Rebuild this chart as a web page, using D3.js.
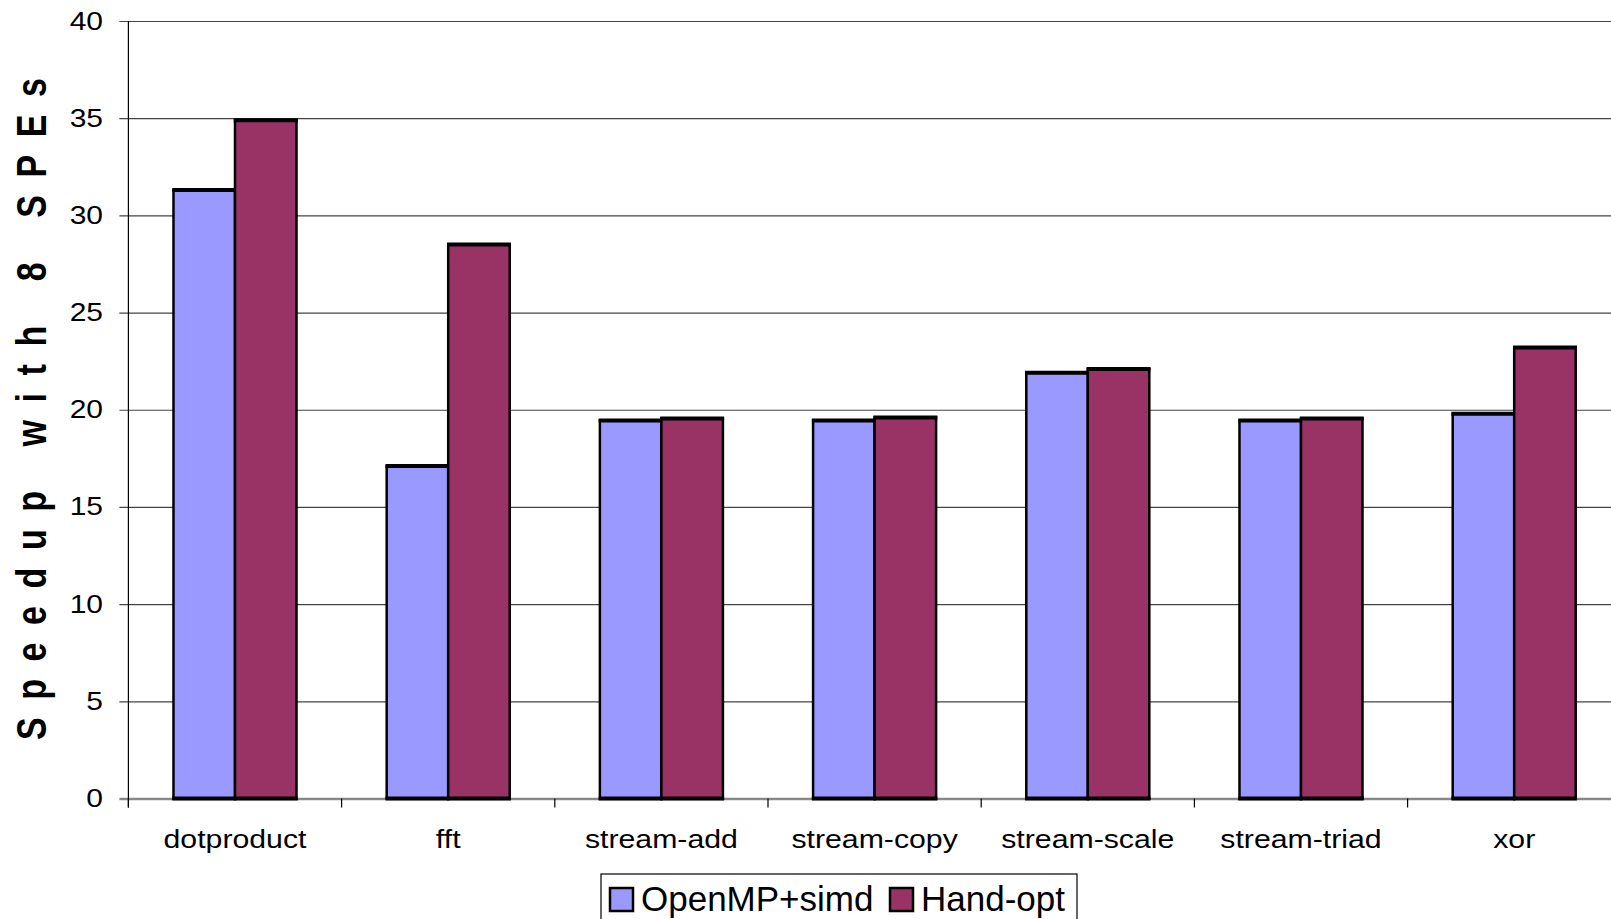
<!DOCTYPE html>
<html>
<head>
<meta charset="utf-8">
<script src="https://cdn.jsdelivr.net/npm/d3@7/dist/d3.min.js"></script>
<style>
  body { margin: 0; background: #fff; }
  svg { display: block; }
  text { font-family: "Liberation Sans", Arial, sans-serif; fill: #000; }
</style>
</head>
<body>
<svg id="chart"></svg>
<script>
const categories = ['dotproduct', 'fft', 'stream-add', 'stream-copy', 'stream-scale', 'stream-triad', 'xor']
const seriesNames = ['OpenMP+simd', 'Hand-opt']
const openmpSimd = [31.3, 17.1, 19.45, 19.45, 21.9, 19.45, 19.8]
const handOpt = [34.9, 28.5, 19.55, 19.6, 22.1, 19.55, 23.2]
const yTicks = [0, 5, 10, 15, 20, 25, 30, 35, 40]
const colors = ['#9999ff', '#993366']

const WIDTH = 1611
const HEIGHT = 919
const LEFT = 128.4
const STEP = 213.2
const TOP = 21
const BOTTOM = 798.5
const STRETCH = 1.2  // the original picture is a bit wider than tall

const svg = d3.select('#chart')
  .attr('width', WIDTH)
  .attr('height', HEIGHT)

const x = d3.scaleBand()
  .domain(categories)
  .range([LEFT, LEFT + STEP * categories.length])
  .padding(0)

const xs = d3.scaleBand()
  .domain(seriesNames)
  .range([0, x.bandwidth()])
  .paddingInner(0)
  .paddingOuter(0.733)

const y = d3.scaleLinear()
  .domain([0, 40])
  .range([BOTTOM, TOP])

// gridlines + y ticks
const yAxis = svg.append('g')
  .attr('transform', `translate(${LEFT},0)`)
  .call(d3.axisLeft(y).tickValues(yTicks).tickSize(-(WIDTH - LEFT)).tickPadding(25.4 / STRETCH).tickSizeOuter(0))
yAxis.select('.domain').remove()
yAxis.selectAll('.tick line')
  .attr('x1', -9)
  .attr('stroke', d => d === 0 ? '#888' : '#444')
  .attr('stroke-width', d => d === 0 ? 2.5 : 1.2)
yAxis.selectAll('.tick text')
  .attr('transform', `scale(${STRETCH},1)`)
  .style('font-size', '25px')
  .style('font-family', '"Liberation Sans", Arial, sans-serif')

// y axis line
svg.append('line')
  .attr('x1', LEFT).attr('x2', LEFT)
  .attr('y1', y(40)).attr('y2', BOTTOM + 9)
  .attr('stroke', '#000').attr('stroke-width', 1.2)

// category labels
const xAxis = svg.append('g')
  .attr('transform', `translate(0,${BOTTOM})`)
  .call(d3.axisBottom(x).tickSize(0).tickPadding(31).tickSizeOuter(0))
xAxis.select('.domain').remove()
xAxis.selectAll('.tick text')
  .attr('transform', `scale(${STRETCH * 0.97},1)`)
  .style('font-size', '26px')
  .style('font-family', '"Liberation Sans", Arial, sans-serif')

svg.append('g').selectAll('line')
  .data(categories)
  .enter().append('line')
  .attr('x1', d => x(d)).attr('x2', d => x(d))
  .attr('y1', BOTTOM).attr('y2', BOTTOM + 9)
  .attr('stroke', '#000').attr('stroke-width', 1.2)

// bars
const rows = categories.map((c, i) => ({ name: c, values: [openmpSimd[i], handOpt[i]] }))
const group = svg.append('g').selectAll('g')
  .data(rows)
  .enter().append('g')
  .attr('transform', d => `translate(${x(d.name)},0)`)

const bar = group.selectAll('g')
  .data(d => d.values.map((v, j) => ({ series: seriesNames[j], value: v, j })))
  .enter().append('g')

bar.append('rect')
  .attr('x', d => xs(d.series))
  .attr('y', d => y(d.value))
  .attr('width', xs.bandwidth())
  .attr('height', d => BOTTOM - y(d.value))
  .attr('fill', d => colors[d.j])
  .attr('stroke', '#000')
  .attr('stroke-width', 2.5)

bar.append('line')
  .attr('x1', d => xs(d.series) - 1.2)
  .attr('x2', d => xs(d.series) + xs.bandwidth() + 1.2)
  .attr('y1', d => y(d.value))
  .attr('y2', d => y(d.value))
  .attr('stroke', '#000')
  .attr('stroke-width', 4)

bar.append('line')
  .attr('x1', d => xs(d.series) - 1.2)
  .attr('x2', d => xs(d.series) + xs.bandwidth() + 1.2)
  .attr('y1', BOTTOM)
  .attr('y2', BOTTOM)
  .attr('stroke', '#000')
  .attr('stroke-width', 4)

// y title
svg.append('text')
  .attr('transform', `translate(46,${(78 + 740) / 2}) scale(1.25,1) rotate(-90)`)
  .attr('text-anchor', 'middle')
  .attr('textLength', 662)
  .attr('lengthAdjust', 'spacing')
  .style('font-size', '34px')
  .style('font-weight', 'bold')
  .text('Speedup with 8 SPEs')

// legend
const legend = svg.append('g')
legend.append('rect')
  .attr('x', 601).attr('y', 874)
  .attr('width', 476).attr('height', 70)
  .attr('fill', '#fff').attr('stroke', '#000').attr('stroke-width', 1.2)

const legendX = [610, 890]
const item = legend.selectAll('g.item')
  .data(seriesNames)
  .enter().append('g')
  .attr('class', 'item')
  .attr('transform', (d, i) => `translate(${legendX[i]},888)`)
item.append('rect')
  .attr('width', 23).attr('height', 23)
  .attr('fill', (d, i) => colors[i])
  .attr('stroke', '#000').attr('stroke-width', 2.5)
item.append('text')
  .attr('x', 31).attr('y', 23)
  .style('font-size', '35px')
  .text(d => d)
</script>
</body>
</html>
